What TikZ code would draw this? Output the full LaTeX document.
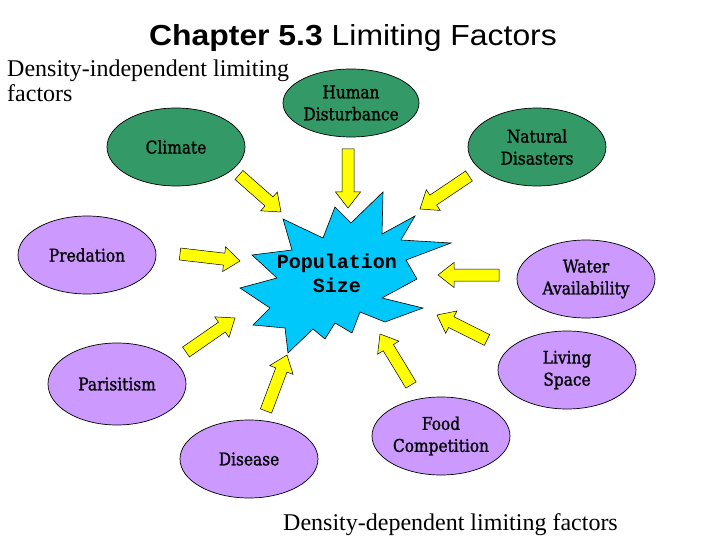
\documentclass[tikz,border=0pt]{standalone}
\usepackage{fontspec}
\setmainfont{Liberation Serif}
\newfontfamily\titlefont[FakeStretch=1.1]{Liberation Sans}
\newfontfamily\labfont[FakeStretch=0.88,FakeBold=1.2]{DejaVu Serif}
\newfontfamily\popfont{Liberation Mono}
\usetikzlibrary{shapes.geometric,calc}
\definecolor{dgreen}{RGB}{51,153,102}
\definecolor{lpurple}{RGB}{204,153,255}
\definecolor{sky}{RGB}{0,200,250}
\definecolor{yel}{RGB}{255,255,0}
\newcommand{\blockarr}[2]{%
  \coordinate (#2-b) at ($(#2)!16pt!(#1)$);
  \draw[yarr] ($(#1)!6pt!90:(#2)$) -- ($(#2-b)!6pt!-90:(#1)$) -- ($(#2-b)!12.5pt!-90:(#1)$) -- (#2)
    -- ($(#2-b)!12.5pt!90:(#1)$) -- ($(#2-b)!6pt!90:(#1)$) -- ($(#1)!6pt!-90:(#2)$) -- cycle;}
\begin{document}
\begin{tikzpicture}[x=1pt,y=-1pt,
  oval/.style={ellipse, draw=black, line width=0.7pt, minimum width=138pt, minimum height=78pt,
    inner sep=0pt, align=center, font=\labfont\fontsize{17.5}{22}\selectfont},
  indep/.style={oval, fill=dgreen},
  dep/.style={oval, fill=lpurple},
  yarr/.style={fill=yel, draw=black, line width=0.5pt, line join=miter},
  plain/.style={inner sep=0pt, anchor=base west, font=\fontsize{24}{25}\selectfont}]
\fill[white] (0,0) rectangle (720,540);
\useasboundingbox (0,0) rectangle (720,540);

% title and captions
\node[inner sep=0pt, anchor=base, font=\titlefont\fontsize{29}{32}\selectfont] (title) at (353,46)
  {\textbf{Chapter 5.3} Limiting Factors};
\node[plain] (indep1) at (7,77) {Density-independent limiting};
\node[plain] (indep2) at (7,102) {factors};
\node[plain] (deplab) at (283,530) {Density-dependent limiting factors};

% density-independent factors
\node[indep, minimum width=136pt, minimum height=68pt] (human) at (351,103) {Human\\Disturbance};
\node[indep] (natural) at (537,147) {Natural\\Disasters};
\node[indep] (climate) at (176,147) {Climate};

% density-dependent factors
\node[dep] (predation) at (87,255) {Predation};
\node[dep, minimum height=82pt] (paris) at (117,384) {Parisitism};
\node[dep] (disease) at (249,459) {Disease};
\node[dep] (food) at (441,436) {Food\\Competition};
\node[dep] (water) at (586,279) {Water\\Availability};
\node[dep] (living) at (567,370) {Living\\Space};

% starburst
\draw[fill=sky, draw=black, line width=0.6pt, line join=miter]
  (283,219) -- (323,238) -- (335,207) -- (351,223) -- (383,192) -- (382,234) -- (415,216)
  -- (401,240) -- (451,243) -- (406,260) -- (417,279) -- (382,298) -- (423,308) -- (385,322)
  -- (360,312) -- (352,333) -- (335,323) -- (325,339) -- (313,329) -- (288,353) -- (285,328)
  -- (253,325) -- (270,308) -- (240,288) -- (277,278) -- (252,255) -- (292,250) -- cycle;
\node[inner sep=0pt, align=center, font=\popfont\bfseries\fontsize{20}{24}\selectfont] (pop) at (337,273)
  {Population\\Size};

% arrows
\coordinate (a1t) at (239,175); \coordinate (a1h) at (281,212);
\coordinate (a2t) at (348,149); \coordinate (a2h) at (348,208);
\coordinate (a3t) at (469,176); \coordinate (a3h) at (420,209);
\coordinate (a4t) at (180,254); \coordinate (a4h) at (240,261);
\coordinate (a5t) at (186,352); \coordinate (a5h) at (235,318);
\coordinate (a6t) at (266,411); \coordinate (a6h) at (287,355);
\coordinate (a7t) at (411,385); \coordinate (a7h) at (380,334);
\coordinate (a8t) at (487,340); \coordinate (a8h) at (437,315);
\coordinate (a9t) at (499,275); \coordinate (a9h) at (438,275);
\blockarr{a1t}{a1h}
\blockarr{a2t}{a2h}
\blockarr{a3t}{a3h}
\blockarr{a4t}{a4h}
\blockarr{a5t}{a5h}
\blockarr{a6t}{a6h}
\blockarr{a7t}{a7h}
\blockarr{a8t}{a8h}
\blockarr{a9t}{a9h}
\end{tikzpicture}
\end{document}
